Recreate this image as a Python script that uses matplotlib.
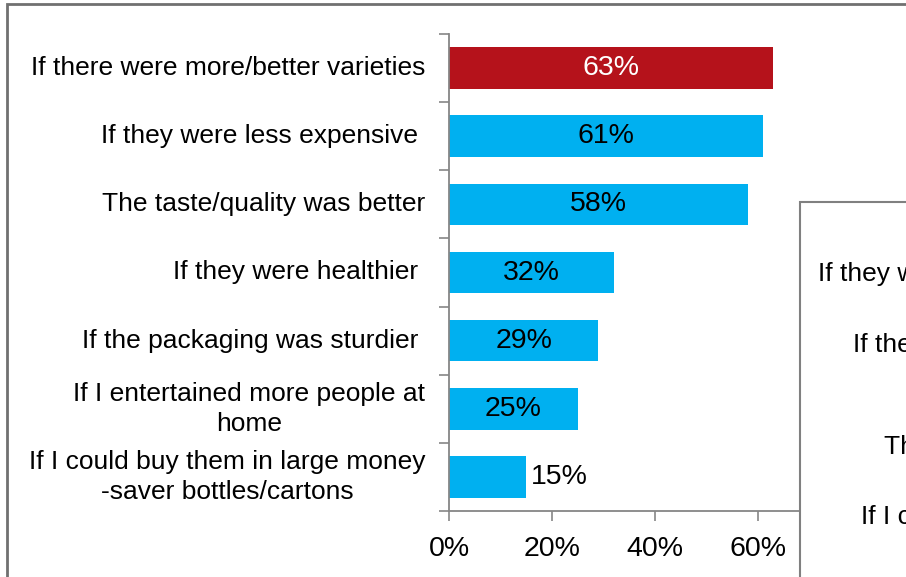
import matplotlib
matplotlib.use("Agg")
import matplotlib.pyplot as plt
from matplotlib.patches import Rectangle

plt.rcParams['font.family'] = ['Liberation Sans', 'DejaVu Sans']

labels = ["If there were more/better varieties",
          "If they were less expensive ",
          "The taste/quality was better",
          "If they were healthier ",
          "If the packaging was sturdier ",
          "If I entertained more people at\nhome",
          "If I could buy them in large money\n-saver bottles/cartons"]
values = [63, 61, 58, 32, 29, 25, 15]
colors = ["#B5121B"] + ["#00B0F0"] * 6
xticks = [0, 20, 40, 60]

# second panel, mostly cropped off on the right
side_labels = ["If they were healthier", "If the packaging was sturdier",
               "The taste/quality was better", "If I could buy them in large money"]
side_x = [818, 853, 884, 861]
side_y = [274, 345, 447, 517]

W, H = 906, 577
fig = plt.figure(figsize=(W / 100, H / 100), dpi=100)

# outer frame
fig.patches.append(Rectangle((7 / W, -0.1), 2, 1.1 - 4 / H, transform=fig.transFigure,
                             fill=False, edgecolor="#707070", linewidth=2, zorder=0))

ax = fig.add_axes([449 / W, 1 - 511 / H, 350 / W, 477 / H])
y = list(range(len(values)))
ax.barh(y, values, height=0.61, color=colors)
ax.set_ylim(len(values) - 0.5, -0.5)
ax.set_xlim(0, 68)

for i, v in enumerate(values):
    if v >= 20:
        ax.text(v / 2, i, f"{v}%", ha="center", va="center", fontsize=20.5,
                color="white" if i == 0 else "black")
    else:
        ax.text(v + 1, i, f"{v}%", ha="left", va="center", fontsize=20.5)

ax.set_yticks([i - 0.5 for i in range(len(values) + 1)])
ax.set_yticklabels([])
for i, lab in enumerate(labels):
    ax.text(-4.6, i, lab, ha="right", va="center", multialignment="center",
            fontsize=19, linespacing=1.3)

ax.set_xticks(xticks)
ax.set_xticklabels([f"{t}%" for t in xticks], fontsize=20.5)
ax.tick_params(axis="both", direction="out", length=7, color="#868686", width=1.2)
ax.tick_params(axis="x", pad=11)
for s in ["top", "right"]:
    ax.spines[s].set_visible(False)
for s in ["left", "bottom"]:
    ax.spines[s].set_color("#868686")
    ax.spines[s].set_linewidth(1.3)

# overlapping second panel
fig.patches.append(Rectangle((800 / W, -0.1), 0.3, 0.1 + 1 - 202 / H, transform=fig.transFigure,
                             facecolor="white", edgecolor="#808080", linewidth=1.5, zorder=5))
for t, sx, sy in zip(side_labels, side_x, side_y):
    fig.text(sx / W, 1 - sy / H, t, ha="left", va="center", fontsize=19, zorder=6)

fig.savefig("out.png", dpi=100)
